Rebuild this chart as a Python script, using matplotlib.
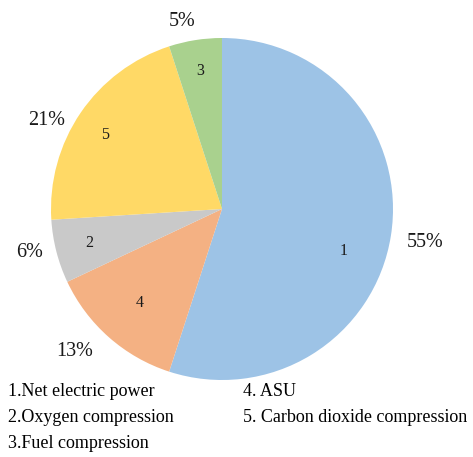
import numpy as np
import matplotlib
matplotlib.use("Agg")
import matplotlib.pyplot as plt

# slice order: clockwise from 12 o'clock
ids = ["1", "4", "2", "5", "3"]
shares = [55, 13, 6, 21, 5]
colors = ["#9DC3E6", "#F4B183", "#C9C9C9", "#FFD966", "#A9D18E"]
legend_left = ["1.Net electric power", "2.Oxygen compression", "3.Fuel compression"]
legend_right = ["4. ASU", "5. Carbon dioxide compression"]

# label nudges (degrees along the rim, radius in pie units) to follow the original placement
pct_shift = [0, -5, -2, 7, 3]
pct_rad = [1.20, 1.19, 1.15, 1.15, 1.13]
num_shift = [-10, 0, 0, 2, 0]
num_rad = [0.75, 0.73, 0.80, 0.81, 0.82]

plt.rcParams['font.family'] = ['Liberation Serif', 'DejaVu Serif']

fig = plt.figure(figsize=(4.73, 4.57), dpi=100)
# pie centre ~ (222, 209) px, radius ~171 px
r_px = 171
ax = fig.add_axes([(222 - r_px) / 473, 1 - (209 + r_px) / 457,
                   2 * r_px / 473, 2 * r_px / 457])

wedges, texts, inner = ax.pie(
    shares, colors=colors, startangle=90, counterclock=False,
    labels=[f"{s}%" for s in shares], labeldistance=1.17,
    autopct=lambda p: "", pctdistance=0.78,
    wedgeprops=dict(linewidth=0),
    textprops=dict(fontsize=14.5, color="#1a1a1a"))

for i, w in enumerate(wedges):
    mid = (w.theta1 + w.theta2) / 2
    a = np.deg2rad(mid + pct_shift[i])
    texts[i].set_position((pct_rad[i] * np.cos(a), pct_rad[i] * np.sin(a) - 0.01))
    texts[i].set_ha("center")
    texts[i].set_va("center")
    b = np.deg2rad(mid + num_shift[i])
    inner[i].set_position((num_rad[i] * np.cos(b), num_rad[i] * np.sin(b)))
    inner[i].set_text(ids[i])
    inner[i].set_fontsize(11.5)
    inner[i].set_color("#1a1a1a")

ax.set_aspect("equal")
ax.set_xlim(-1, 1)
ax.set_ylim(-1, 1)

ys = [391, 417, 444]
for txt, y in zip(legend_left, ys):
    fig.text(8 / 473, 1 - y / 457, txt, fontsize=13.0, va="center", ha="left")
for txt, y in zip(legend_right, ys):
    fig.text(243 / 473, 1 - y / 457, txt, fontsize=13.0, va="center", ha="left")

fig.savefig("out.png", dpi=100)
